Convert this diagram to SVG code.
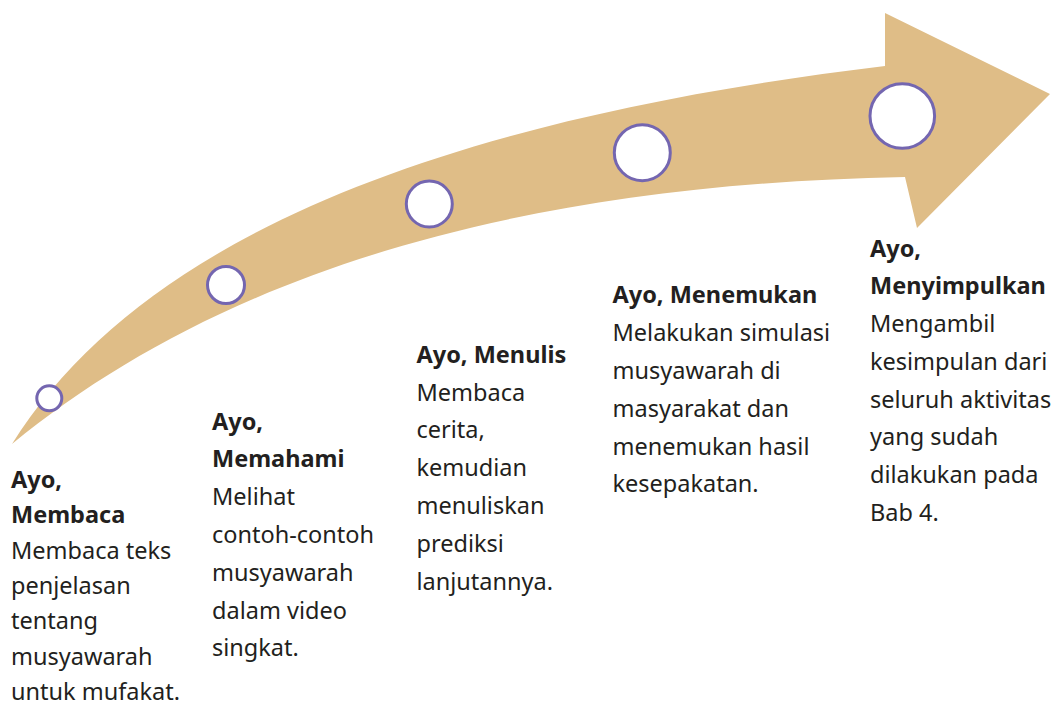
<svg xmlns="http://www.w3.org/2000/svg" width="1055" height="705" viewBox="0 0 1055 705">
<style>
text{font-family:"Noto Sans","Open Sans","Liberation Sans",sans-serif;font-size:23.5px;fill:#231f20}
.h{font-weight:700}
.dot{fill:#ffffff;stroke:#7466b0;stroke-width:3}
</style>
<rect width="1055" height="705" fill="#ffffff"/>
<g id="arrow">
<path d="M12,444 C140,240 435,120 885,66 L885,13 L1050,94 L917,228 L905,177 C480,185 200,290 12,444 Z" fill="#dfbd87"/>
</g>
<g id="connectors"></g>
<g id="node1">
<circle class="dot" cx="49.3" cy="398.3" r="12.5"/>
<text x="11" y="488"><tspan class="h">Ayo,</tspan><tspan class="h" x="11" y="523.3">Membaca</tspan><tspan x="11" y="558.6">Membaca teks</tspan><tspan x="11" y="593.9">penjelasan</tspan><tspan x="11" y="629.2">tentang</tspan><tspan x="11" y="664.5">musyawarah</tspan><tspan x="11" y="699.6">untuk mufakat.</tspan></text>
</g>
<g id="node2">
<circle class="dot" cx="226" cy="285" r="18.5"/>
<text x="212" y="429.5"><tspan class="h">Ayo,</tspan><tspan class="h" x="212" y="467.3">Memahami</tspan><tspan x="212" y="505.1">Melihat</tspan><tspan x="212" y="542.9">contoh-contoh</tspan><tspan x="212" y="580.7">musyawarah</tspan><tspan x="212" y="618.5">dalam video</tspan><tspan x="212" y="656.3">singkat.</tspan></text>
</g>
<g id="node3">
<circle class="dot" cx="429.3" cy="204" r="23"/>
<text x="416.5" y="362.7"><tspan class="h">Ayo, Menulis</tspan><tspan x="416.5" y="400.5">Membaca</tspan><tspan x="416.5" y="438.3">cerita,</tspan><tspan x="416.5" y="476.1">kemudian</tspan><tspan x="416.5" y="513.9">menuliskan</tspan><tspan x="416.5" y="551.7">prediksi</tspan><tspan x="416.5" y="589.5">lanjutannya.</tspan></text>
</g>
<g id="node4">
<circle class="dot" cx="642.3" cy="152.7" r="28"/>
<text x="612.5" y="303.3"><tspan class="h">Ayo, Menemukan</tspan><tspan x="612.5" y="341.1">Melakukan simulasi</tspan><tspan x="612.5" y="378.9">musyawarah di</tspan><tspan x="612.5" y="416.7">masyarakat dan</tspan><tspan x="612.5" y="454.5">menemukan hasil</tspan><tspan x="612.5" y="492.3">kesepakatan.</tspan></text>
</g>
<g id="node5">
<circle class="dot" cx="902.3" cy="116" r="32.3"/>
<text x="870" y="256.7"><tspan class="h">Ayo,</tspan><tspan class="h" x="870" y="294.4">Menyimpulkan</tspan><tspan x="870" y="332.1">Mengambil</tspan><tspan x="870" y="369.8">kesimpulan dari</tspan><tspan x="870" y="407.5">seluruh aktivitas</tspan><tspan x="870" y="445.2">yang sudah</tspan><tspan x="870" y="482.9">dilakukan pada</tspan><tspan x="870" y="520.6">Bab 4.</tspan></text>
</g>
</svg>
